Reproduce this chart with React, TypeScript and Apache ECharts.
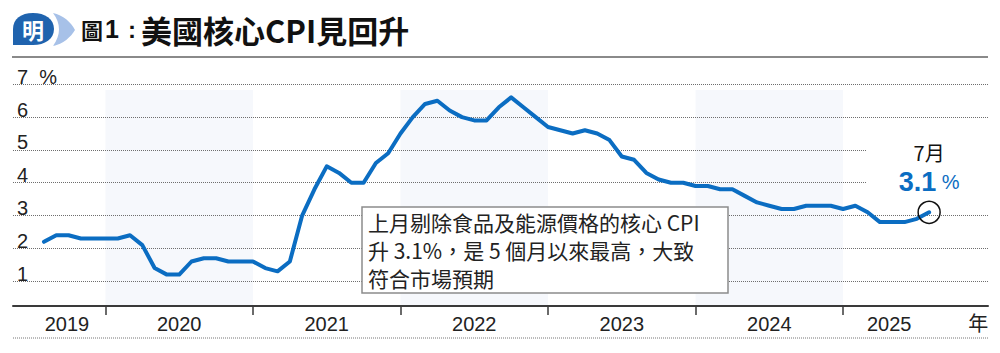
import React, { useEffect, useRef } from 'react';
import * as echarts from 'echarts';

// ---- data ----
const startYear = 2019;
const startMonth = 7; // first data point: July 2019
const coreCpi = [
  2.2, 2.4, 2.4, 2.3, 2.3, 2.3,
  2.3, 2.4, 2.1, 1.4, 1.2, 1.2, 1.6, 1.7, 1.7, 1.6, 1.6, 1.6,
  1.4, 1.3, 1.6, 3.0, 3.8, 4.5, 4.3, 4.0, 4.0, 4.6, 4.9, 5.5,
  6.0, 6.4, 6.5, 6.2, 6.0, 5.9, 5.9, 6.3, 6.6, 6.3, 6.0, 5.7,
  5.6, 5.5, 5.6, 5.5, 5.3, 4.8, 4.7, 4.3, 4.1, 4.0, 4.0, 3.9,
  3.9, 3.8, 3.8, 3.6, 3.4, 3.3, 3.2, 3.2, 3.3, 3.3, 3.3, 3.2,
  3.3, 3.1, 2.8, 2.8, 2.8, 2.9, 3.1,
];
const years = [2019, 2020, 2021, 2022, 2023, 2024, 2025];
const shadedYears = [2020, 2022, 2024];
const yTicks = [1, 2, 3, 4, 5, 6, 7];
const yearUnit = '年';
const titleText = '美國核心CPI見回升';
const noteLines = [
  '上月剔除食品及能源價格的核心 CPI',
  '升 3.1%，是 5 個月以來最高，大致',
  '符合市場預期',
];

// ---- shapes for logo ----
echarts.graphic.registerShape(
  'mpBubble',
  echarts.graphic.extendPath('M13 45 L13 29 C13 19 21 13 33 13 C45 13 54 19 54 29 C54 39 45 45 33 45 Z', {})
);
echarts.graphic.registerShape(
  'mpChevron',
  echarts.graphic.extendPath('M53 13 C63 15 71 22 75 30 C71 37 63 44 53 46 C57 40 59 35 59 29.5 C59 24 57 18 53 13 Z', {})
);

const BLUE = '#0b6dc2';
const X_MIN = -2.52;
const X_MAX = 76.79;

export default function App() {
  const ref = useRef<HTMLDivElement>(null);

  useEffect(() => {
    document.body.style.margin = '0';
    if (!ref.current) return;
    const chart = echarts.init(ref.current, undefined, { renderer: 'svg' });

    const n = coreCpi.length;
    const lastIdx = n - 1;
    const lastVal = coreCpi[lastIdx];
    const lastMonth = ((startMonth - 1 + lastIdx) % 12) + 1;
    const seriesData = coreCpi.map((v, i) => [i, v]);

    // year boundary tick sits at the December point of the previous year
    const boundary = (y: number) => (y - startYear) * 12 - startMonth;
    const tickVals = years.slice(1).map((y) => boundary(y));
    const labelMap = new Map<number, string>();
    years.forEach((y) => {
      const lo = Math.max(boundary(y), X_MIN / 2);
      const hi = Math.min(boundary(y + 1), lastIdx + 0.5);
      const c = Math.round(((lo + hi) / 2) * 100) / 100;
      labelMap.set(c, String(y));
    });
    const unitPos = Math.round(X_MAX - 0.8);
    labelMap.set(unitPos, yearUnit);
    const labelVals = Array.from(labelMap.keys());

    const bandData = shadedYears.map((y) => [
      { coord: [boundary(y), 0.244] },
      { coord: [boundary(y + 1), 6.83] },
    ]);

    const option: any = {
      animation: false,
      grid: { left: 13, right: 12, top: 84.3, bottom: 39 },
      xAxis: {
        type: 'value',
        min: X_MIN,
        max: X_MAX,
        offset: -8,
        z: 2,
        axisLine: { show: true, onZero: false, lineStyle: { color: '#3a3a3a', width: 2 } },
        axisTick: { show: true, customValues: tickVals, length: 9, lineStyle: { color: '#3a3a3a', width: 1.5 } },
        axisLabel: {
          customValues: labelVals,
          formatter: (v: number) => labelMap.get(Math.round(v * 100) / 100) ?? '',
          margin: 8,
          fontSize: 20,
          color: '#222',
          fontFamily: 'Liberation Sans, Noto Sans CJK TC',
        },
        splitLine: { show: false },
      },
      yAxis: {
        type: 'value',
        min: 0,
        max: 7,
        interval: 1,
        z: 2,
        axisLine: { show: false },
        axisTick: { show: false },
        splitLine: { show: true, showMinLine: false, lineStyle: { type: 'dotted', color: '#6e6e6e', width: 1 } },
        axisLabel: {
          inside: true,
          margin: 4,
          verticalAlign: 'bottom',
          lineHeight: 15,
          fontSize: 20,
          color: '#222',
          fontFamily: 'Liberation Sans',
          formatter: (v: number) => (yTicks.includes(v) ? (v === yTicks[yTicks.length - 1] ? v + '  %' : String(v)) : ''),
        },
      },
      series: [
        {
          type: 'line',
          z: 3,
          data: seriesData,
          showSymbol: false,
          symbol: 'none',
          lineStyle: { color: BLUE, width: 4, join: 'round', cap: 'round' },
          markArea: {
            z: 1,
            silent: true,
            itemStyle: { color: '#f6f8fc' },
            data: bandData,
          },
          markPoint: {
            z: 5,
            silent: true,
            symbol: 'circle',
            symbolSize: 22,
            itemStyle: { color: 'rgba(0,0,0,0)', borderColor: '#111', borderWidth: 1.5 },
            data: [{ coord: [lastIdx, lastVal], value: lastVal }],
            label: {
              show: true,
              position: 'top',
              distance: 4,
              backgroundColor: '#fff',
              padding: [2, 32, 0, 32],
              formatter: (p: any) => `{m|${lastMonth}月}\n{v|${p.value}}{p| %}`,
              rich: {
                m: { fontSize: 20, color: '#111', lineHeight: 28, fontFamily: 'Noto Sans CJK TC' },
                v: { fontSize: 27, fontWeight: 'bold', color: BLUE, lineHeight: 30, fontFamily: 'Liberation Sans' },
                p: { fontSize: 20, color: BLUE, lineHeight: 30, fontFamily: 'Liberation Sans' },
              },
            },
          },
        },
      ],
      graphic: [
        // title rule
        { type: 'line', z: 10, shape: { x1: 12, y1: 57, x2: 988, y2: 57 }, style: { stroke: '#8a8a8a', lineWidth: 2 } },
        // bottom dotted rule
        { type: 'line', z: 10, shape: { x1: 13, y1: 338, x2: 988, y2: 338 }, style: { stroke: '#777', lineWidth: 1, lineDash: [1, 1] } },
        // logo
        { type: 'mpBubble', z: 10, x: 0, y: 0, style: { fill: '#1f63ae' } },
        { type: 'mpChevron', z: 10, x: 0, y: 0, style: { fill: '#a7c1e8' } },
        {
          type: 'text', z: 11, x: 33, y: 29,
          style: { text: '明', fill: '#fff', fontSize: 22, fontWeight: 'bold', fontFamily: 'Noto Sans CJK TC', align: 'center', verticalAlign: 'middle' },
        },
        // title
        {
          type: 'text', z: 10, x: 81, y: 29,
          style: {
            text: `{a|圖}{b|1}{c|:}{d|${titleText}}`,
            verticalAlign: 'middle',
            rich: {
              a: { fontSize: 22, fontFamily: 'Noto Sans CJK TC', fontWeight: 'bold', fill: '#111' },
              b: { fontSize: 25, fontFamily: 'Liberation Sans', fontWeight: 'bold', fill: '#111', padding: [0, 0, 0, 2] },
              c: { fontSize: 24, fontFamily: 'Liberation Sans', fontWeight: 'bold', fill: '#111', padding: [0, 5, 0, 9] },
              d: { fontSize: 31, fontFamily: 'Noto Sans CJK TC', fontWeight: 'bold', fill: '#111' },
            },
          },
        },
        // annotation box
        {
          type: 'group', z: 10, x: 362, y: 207,
          children: [
            { type: 'rect', z: 10, shape: { x: 0, y: 0, width: 366, height: 86 }, style: { fill: '#fff', stroke: '#8c8c8c', lineWidth: 1.5 } },
            {
              type: 'text', z: 11, x: 6, y: 1,
              style: {
                text: noteLines.join('\n'),
                fontSize: 21,
                lineHeight: 28,
                fill: '#222',
                fontFamily: 'Noto Sans CJK TC',
              },
            },
          ],
        },
      ],
    };

    chart.setOption(option);
    return () => chart.dispose();
  }, []);

  return <div ref={ref} style={{ width: 1000, height: 353 }} />;
}
